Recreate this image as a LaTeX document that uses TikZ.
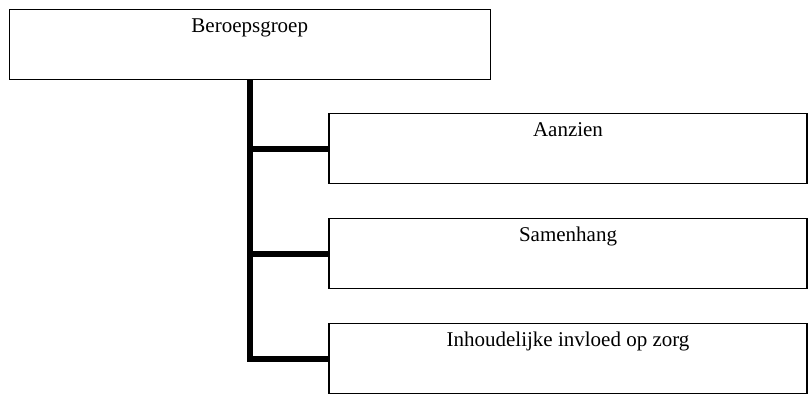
\documentclass[tikz,border=0pt]{standalone}
\usepackage{fontspec}
\setmainfont{Liberation Serif}
\usepackage{tikz}
\begin{document}
\begin{tikzpicture}[x=0.75pt,y=-0.75pt]
			\tikzstyle{box}=[rectangle,draw=black,line width=1.1pt,inner xsep=0pt,inner ysep=0pt,text height=17.25pt,text depth=35.25pt,font=\fontsize{15.75}{18}\selectfont]
			\tikzstyle{trunk}=[line width=4.6pt,line join=miter]
			\useasboundingbox (0,0) rectangle (811,399);
			\node (groep)[box,minimum width=360.75pt,anchor=north] at (249.75,9) {Beroepsgroep};
			\node (aanzien)[box,minimum width=358.5pt,anchor=north] at (568,113) {Aanzien};
			\node (samen)[box,minimum width=358.5pt,anchor=north] at (568,218) {Samenhang};
			\node (invloed)[box,minimum width=358.5pt,anchor=north] at (568,323) {Inhoudelijke invloed op zorg};
			\draw[trunk] (groep.south) -- (groep.south |- invloed.west) -- (invloed.west);
			\draw[trunk] (groep.south |- aanzien.west) -- (aanzien.west);
			\draw[trunk] (groep.south |- samen.west) -- (samen.west);

		\end{tikzpicture}
\end{document}
